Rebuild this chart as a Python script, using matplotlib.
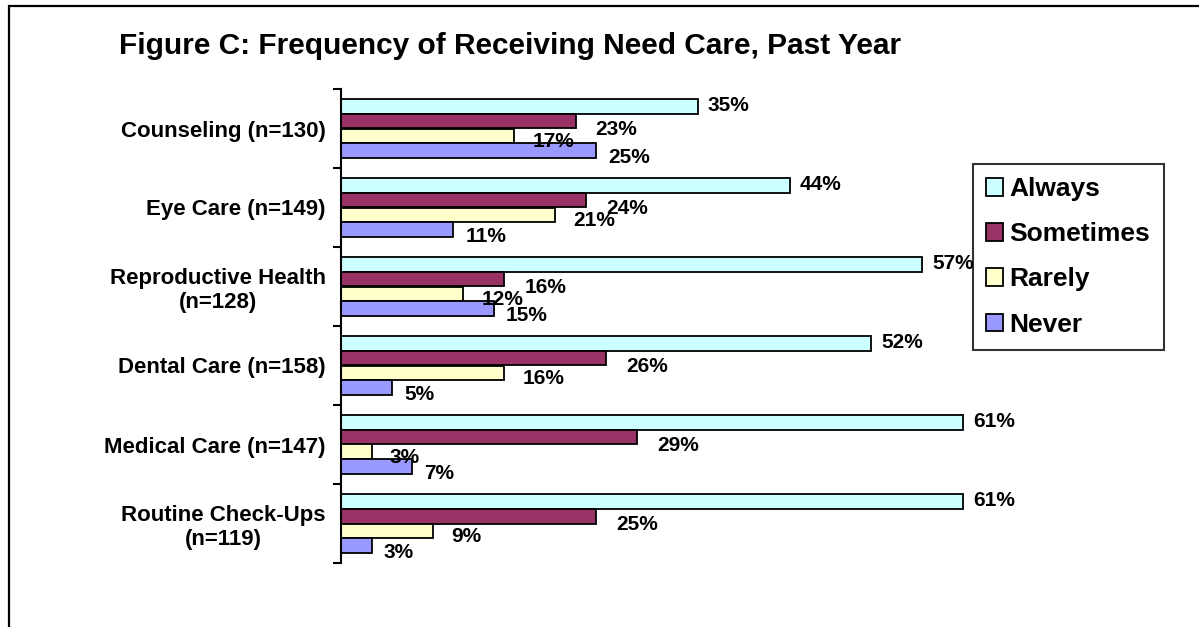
#!/usr/bin/env python3

import matplotlib
matplotlib.use('Agg')
import matplotlib.pyplot as plt
import matplotlib.patches
import numpy as np

categories = [
        "Counseling (n=130)",
        "Eye Care (n=149)",
        "Reproductive Health\n(n=128)",
        "Dental Care (n=158)",
        "Medical Care (n=147)",
        "Routine Check-Ups\n(n=119)",
]
series = ["Always", "Sometimes", "Rarely", "Never"]
always = [35, 44, 57, 52, 61, 61]
sometimes = [23, 24, 16, 26, 29, 25]
rarely = [17, 21, 12, 16, 3, 9]
never = [25, 11, 15, 5, 7, 3]

colors = ['#CCFFFF', '#993366', '#FFFFCC', '#9999FF']
# label offsets (pixels) per series, roughly where excel left them
label_offsets = [(10, 1), (20, -8), (18, -6), (12, -7)]


def main():
    plt.rcParams['font.family'] = ['Liberation Sans', 'DejaVu Sans']
    plt.rcParams['font.weight'] = 'bold'

    fig = plt.figure(figsize=(11.99, 6.27), dpi=100)
    ax = fig.add_axes([341 / 1199, 1 - 563 / 627, 816 / 1199, (563 - 89) / 627])

    values = [always, sometimes, rarely, never]
    y = np.arange(len(categories))
    h = 0.187

    for j, (name, vals) in enumerate(zip(series, values)):
        pos = y + (j - 1.5) * h
        bars = ax.barh(pos, vals, height=h, color=colors[j],
                       edgecolor='black', linewidth=1.3, label=name)
        dx, dy = label_offsets[j]
        for bar, v in zip(bars, vals):
            ax.annotate(f"{v}%",
                        (bar.get_width(), bar.get_y() + bar.get_height() / 2),
                        xytext=(dx, dy), textcoords='offset pixels',
                        ha='left', va='center', fontsize=15,
                        fontweight='bold')

    ax.set_xlim(0, 80)
    ax.set_ylim(len(categories) - 0.5, -0.5)
    ax.set_yticks(y)
    ax.set_yticklabels(categories, fontsize=16, fontweight='bold',
                       multialignment='center')
    ax.set_yticks(np.arange(len(categories) + 1) - 0.5, minor=True)
    ax.tick_params(axis='y', which='major', length=0, pad=11)
    ax.tick_params(axis='y', which='minor', length=6, width=1.5,
                   direction='out')
    ax.set_xticks([])
    for side in ['top', 'right', 'bottom']:
        ax.spines[side].set_visible(False)
    ax.spines['left'].set_linewidth(1.5)

    fig.text(510 / 1199, 1 - 46 / 627,
             "Figure C: Frequency of Receiving Need Care, Past Year",
             ha='center', va='center', fontsize=21.5, fontweight='bold')

    leg = ax.legend(loc='upper left', bbox_to_anchor=(973 / 1199, 1 - 164 / 627),
                    bbox_transform=fig.transFigure, fontsize=19,
                    frameon=True, fancybox=False, shadow=False,
                    handlelength=0.64, handleheight=0.64, handletextpad=0.25,
                    labelspacing=0.8, borderpad=0.5, borderaxespad=0)
    leg.get_frame().set_edgecolor('black')
    leg.get_frame().set_linewidth(1.5)
    for t in leg.get_texts():
        t.set_fontweight('bold')

    border = matplotlib.patches.Rectangle(
            (8.5 / 1199, -0.05), 1.2, 1 - 5.5 / 627 + 0.05,
            transform=fig.transFigure, fill=False, edgecolor='black',
            linewidth=1.6, clip_on=False)
    fig.add_artist(border)

    fig.savefig('out.png', dpi=100)


if __name__ == '__main__':
    main()
